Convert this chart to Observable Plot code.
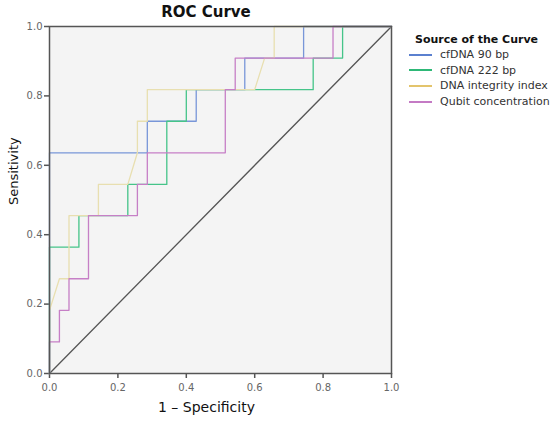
<!DOCTYPE html>
<html>
<head>
<meta charset="utf-8">
<script src="https://cdn.jsdelivr.net/npm/d3@7"></script>
<script src="https://cdn.jsdelivr.net/npm/@observablehq/plot@0.6"></script>
<style>
  html, body { margin: 0; padding: 0; background: #fff; }
  #wrap { position: relative; width: 550px; height: 422px; font-family: "DejaVu Sans", sans-serif; }
  #title { position: absolute; left: 106px; width: 200px; top: 3px; text-align: center; font-weight: bold; font-size: 15px; color: #111; }
  #legend { position: absolute; left: 409px; top: 33px; font-size: 11px; color: #333; }
  #legend .lt { font-weight: bold; font-size: 11px; color: #111; margin-left: 6px; margin-bottom: 1px; }
  #legend .row { display: flex; align-items: center; height: 15.6px; }
  #legend .sw { width: 23px; height: 2px; margin-right: 8px; }
</style>
</head>
<body>
<div id="wrap">
  <div id="chart"></div>
  <div id="title">ROC Curve</div>
  <div id="legend"></div>
</div>
<script>
// Series names and colours
const seriesNames = ["cfDNA 90 bp", "cfDNA 222 bp", "DNA integrity index", "Qubit concentration"];
const lineColors = ["#7896d8", "#45c489", "#e8dfb0", "#c67fc6"];
const legendColors = ["#5b80cf", "#2eb877", "#e3c46c", "#c47ac4"];

// cfDNA 90 bp
const fpr90 = [0, 0, 0.286, 0.286, 0.429, 0.429, 0.571, 0.571, 0.743, 0.743, 1];
const tpr90 = [0, 0.636, 0.636, 0.727, 0.727, 0.818, 0.818, 0.909, 0.909, 1, 1];

// cfDNA 222 bp
const fpr222 = [0, 0, 0.086, 0.086, 0.229, 0.229, 0.343, 0.343, 0.4, 0.4, 0.771, 0.771, 0.857, 0.857, 1];
const tpr222 = [0, 0.364, 0.364, 0.455, 0.455, 0.545, 0.545, 0.727, 0.727, 0.818, 0.818, 0.909, 0.909, 1, 1];

// DNA integrity index
const fprDII = [0, 0, 0.029, 0.057, 0.057, 0.143, 0.143, 0.229, 0.257, 0.257, 0.286, 0.286, 0.6, 0.629, 0.657, 0.657, 1];
const tprDII = [0, 0.182, 0.273, 0.273, 0.455, 0.455, 0.545, 0.545, 0.636, 0.727, 0.727, 0.818, 0.818, 0.909, 0.909, 1, 1];

// Qubit concentration
const fprQ = [0, 0, 0.029, 0.029, 0.057, 0.057, 0.114, 0.114, 0.257, 0.257, 0.286, 0.286, 0.514, 0.514, 0.543, 0.543, 0.829, 0.829, 1];
const tprQ = [0, 0.091, 0.091, 0.182, 0.182, 0.273, 0.273, 0.455, 0.455, 0.545, 0.545, 0.636, 0.636, 0.818, 0.818, 0.909, 0.909, 1, 1];

// Reference line
const diagX = [0, 1];
const diagY = [0, 1];

// Ticks
const axisTicks = [0, 0.2, 0.4, 0.6, 0.8, 1.0];

const curves = [[fpr90, tpr90], [fpr222, tpr222], [fprDII, tprDII], [fprQ, tprQ]];

const chart = Plot.plot({
  width: 550,
  height: 422,
  marginLeft: 49,
  marginRight: 159,
  marginTop: 26,
  marginBottom: 49,
  style: { fontFamily: "DejaVu Sans, sans-serif", background: "#fff" },
  x: { domain: [0, 1] },
  y: { domain: [0, 1] },
  marks: [
    Plot.frame({ fill: "#f4f4f4", stroke: null }),
    Plot.axisX(axisTicks, { tickFormat: ".1f", tickSize: 5, tickPadding: 5, fontSize: 10, fill: "#666", stroke: "#555", strokeWidth: 1.5, label: null }),
    Plot.axisY(axisTicks, { tickFormat: ".1f", tickSize: 5, tickPadding: 2, fontSize: 10, fill: "#666", stroke: "#555", strokeWidth: 1.5, label: null }),
    Plot.line(diagX, { x: diagX, y: diagY, stroke: "#555", strokeWidth: 1.3 }),
    ...curves.map(([fx, ty], i) => Plot.line(ty, { x: fx, y: ty, stroke: lineColors[i], strokeWidth: 1.3 })),
    Plot.frame({ stroke: "#555", strokeWidth: 1.5 }),
    Plot.text(["1 – Specificity"], { frameAnchor: "bottom", dx: -14, dy: 38, fontSize: 14, fill: "#111" }),
    Plot.text(["Sensitivity"], { frameAnchor: "left", dx: -36, dy: 5, rotate: -90, fontSize: 13, fill: "#111" })
  ]
});
document.getElementById("chart").appendChild(chart);

const legend = document.getElementById("legend");
const lt = document.createElement("div");
lt.className = "lt";
lt.textContent = "Source of the Curve";
legend.appendChild(lt);
seriesNames.forEach((name, i) => {
  const row = document.createElement("div");
  row.className = "row";
  const sw = document.createElement("div");
  sw.className = "sw";
  sw.style.background = legendColors[i];
  const tx = document.createElement("span");
  tx.textContent = name;
  row.appendChild(sw);
  row.appendChild(tx);
  legend.appendChild(row);
});
</script>
</body>
</html>
